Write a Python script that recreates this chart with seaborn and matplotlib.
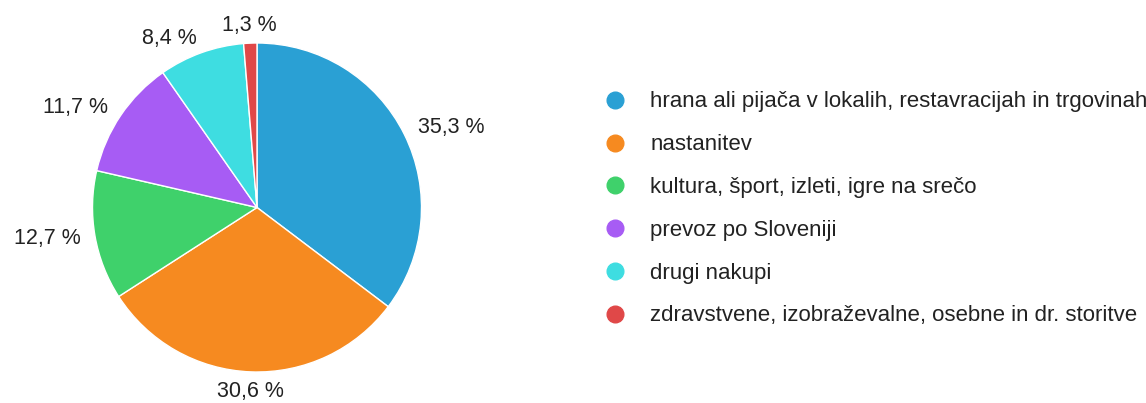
import numpy as np
import matplotlib
matplotlib.use("Agg")
import matplotlib.pyplot as plt
from matplotlib.lines import Line2D
import seaborn as sns

categories = [
    "hrana ali pijača v lokalih, restavracijah in trgovinah",
    "nastanitev",
    "kultura, šport, izleti, igre na srečo",
    "prevoz po Sloveniji",
    "drugi nakupi",
    "zdravstvene, izobraževalne, osebne in dr. storitve",
]
values = [35.3, 30.6, 12.7, 11.7, 8.4, 1.3]
pct_labels = ["35,3 %", "30,6 %", "12,7 %", "11,7 %", "8,4 %", "1,3 %"]
colors = ["#2aa0d4", "#f68a20", "#3fd16b", "#a75cf4", "#3edde1", "#e04848"]

sns.set_theme(style="white")
plt.rcParams["font.family"] = ["Liberation Sans", "DejaVu Sans"]
palette = sns.color_palette(colors)

W, H = 1146, 403
fig = plt.figure(figsize=(W / 100, H / 100), dpi=100)
cx, cy, r = 257, 403 - 207.5, 164.5
ax = fig.add_axes([(cx - r) / W, (cy - r) / H, 2 * r / W, 2 * r / H])

wedges, _ = ax.pie(values, colors=palette, startangle=90, counterclock=False,
                   radius=1, wedgeprops=dict(edgecolor="white", linewidth=1))
ax.set_xlim(-1, 1)
ax.set_ylim(-1, 1)
ax.set_aspect("equal")
ax.axis("off")

for w, lab in zip(wedges, pct_labels):
    ang = np.deg2rad((w.theta1 + w.theta2) / 2)
    x, y = np.cos(ang), np.sin(ang)
    if abs(x) < 0.15:
        rr = 1.105 if y > 0 else 1.12
        ha = "center"
    else:
        rr = 1.09
        ha = "left" if x > 0 else "right"
    ax.text(rr * x, rr * y, lab, ha=ha, va="center", fontsize=15.5,
            color="#222222", clip_on=False)

handles = [Line2D([0], [0], marker="o", linestyle="", markersize=12,
                  markerfacecolor=c, markeredgecolor=c) for c in palette]
fig.legend(handles, categories, loc="upper left",
           bbox_to_anchor=(604 / W, 1 - 91.5 / H), frameon=False,
           fontsize=16, labelspacing=0.98, handlelength=1.0,
           handletextpad=1.08, borderaxespad=0, borderpad=0,
           labelcolor="#222222")

fig.savefig("out.png", dpi=100, facecolor="white")
